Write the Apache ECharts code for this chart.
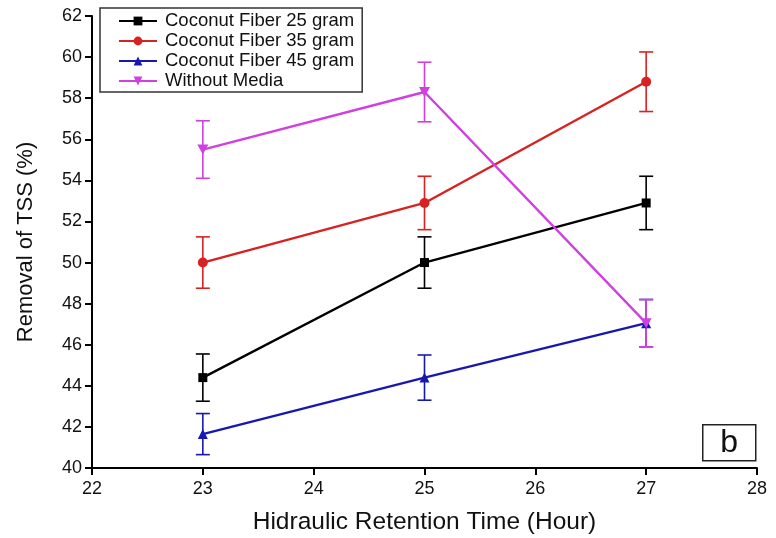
<!DOCTYPE html>
<html><head><meta charset="utf-8">
<script src="https://cdn.jsdelivr.net/npm/echarts@6/dist/echarts.min.js"></script>
<style>html,body{margin:0;padding:0;background:#fff}#c{width:776px;height:538px}</style>
</head><body><div id="c"></div>
<script>
const hours = [23, 25, 27];
const seriesNames = ['Coconut Fiber 25 gram','Coconut Fiber 35 gram','Coconut Fiber 45 gram','Without Media'];
const fiber25 = [44.4, 50.0, 52.9];
const fiber25Err = [1.15, 1.25, 1.3];
const fiber35 = [50.0, 52.9, 58.8];
const fiber35Err = [1.25, 1.3, 1.45];
const fiber45 = [41.65, 44.4, 47.05];
const fiber45Err = [1.0, 1.1, 1.15];
const noMedia = [55.5, 58.3, 47.05];
const noMediaErr = [1.4, 1.45, 1.15];

const colors = ['#000000', '#d82222', '#1818b0', '#d040e0'];
const symbols = ['rect', 'circle', 'triangle', 'path://M0,0 L10,0 L5,9 Z'];
const values = [fiber25, fiber35, fiber45, noMedia];
const errs = [fiber25Err, fiber35Err, fiber45Err, noMediaErr];

const series = [];
values.forEach((vals, i) => {
  series.push({
    type: 'custom',
    name: seriesNames[i] + ' err',
    z: 2,
    silent: true,
    data: hours.map((h, k) => [h, vals[k] - errs[i][k], vals[k] + errs[i][k]]),
    renderItem: function (params, api) {
      const lo = api.coord([api.value(0), api.value(1)]);
      const hi = api.coord([api.value(0), api.value(2)]);
      const w = 7;
      const st = { stroke: colors[i], lineWidth: 1.6 };
      return { type: 'group', children: [
        { type: 'line', shape: { x1: lo[0], y1: lo[1], x2: hi[0], y2: hi[1] }, style: st },
        { type: 'line', shape: { x1: lo[0]-w, y1: lo[1], x2: lo[0]+w, y2: lo[1] }, style: st },
        { type: 'line', shape: { x1: hi[0]-w, y1: hi[1], x2: hi[0]+w, y2: hi[1] }, style: st }
      ]};
    }
  });
});
values.forEach((vals, i) => {
  series.push({
    type: 'line',
    name: seriesNames[i],
    z: 3,
    data: hours.map((h, k) => [h, vals[k]]),
    symbol: symbols[i],
    symbolSize: i === 3 ? [11, 10] : (i === 0 ? 9 : 10),
    showSymbol: true,
    itemStyle: { color: colors[i] },
    lineStyle: { color: colors[i], width: 2.4 },
    emphasis: { disabled: true }
  });
});

const chart = echarts.init(document.getElementById('c'), null, { renderer: 'canvas' });
chart.setOption({
  animation: false,
  backgroundColor: '#fff',
  textStyle: { fontFamily: 'Liberation Sans, Arial, sans-serif' },
  grid: { left: 92, right: 19, top: 16, bottom: 70, containLabel: false, outerBoundsMode: 'none' },
  xAxis: {
    type: 'value', min: 22, max: 28, interval: 1,
    name: 'Hidraulic Retention Time (Hour)', nameLocation: 'middle', nameGap: 42,
    nameTextStyle: { fontSize: 24.5, color: '#111' },
    axisLine: { lineStyle: { color: '#000', width: 2 } },
    axisTick: { show: true, length: 7, lineStyle: { color: '#000', width: 2 } },
    axisLabel: { fontSize: 18, color: '#111', margin: 12 },
    splitLine: { show: false }
  },
  yAxis: {
    type: 'value', min: 40, max: 62, interval: 2,
    name: 'Removal of TSS (%)', nameLocation: 'middle', nameGap: 55,
    nameTextStyle: { fontSize: 22, color: '#111' },
    axisLine: { show: true, lineStyle: { color: '#000', width: 2 } },
    axisTick: { show: true, length: 7, lineStyle: { color: '#000', width: 2 } },
    axisLabel: { fontSize: 18, color: '#111', margin: 10 },
    splitLine: { show: false }
  },
  legend: {
    data: seriesNames,
    orient: 'vertical',
    left: 100, top: 8,
    borderColor: '#333', borderWidth: 1.5,
    padding: [3, 8, 1, 18],
    itemGap: 0,
    itemWidth: 38, itemHeight: 11,
    textStyle: { fontSize: 18.5, color: '#111', lineHeight: 20, padding: [0, 0, 0, 3] },
    backgroundColor: '#fff'
  },
  graphic: [{
    type: 'group', left: 702, top: 424,
    children: [
      { type: 'rect', shape: { x: 0, y: 0, width: 53, height: 36 }, style: { fill: '#fff', stroke: '#222', lineWidth: 1.5 } },
      { type: 'text', x: 26.5, y: 18, style: { text: 'b', font: '32px Liberation Sans, Arial, sans-serif', fill: '#111', align: 'center', verticalAlign: 'middle' } }
    ]
  }],
  series: series
});
</script></body></html>
